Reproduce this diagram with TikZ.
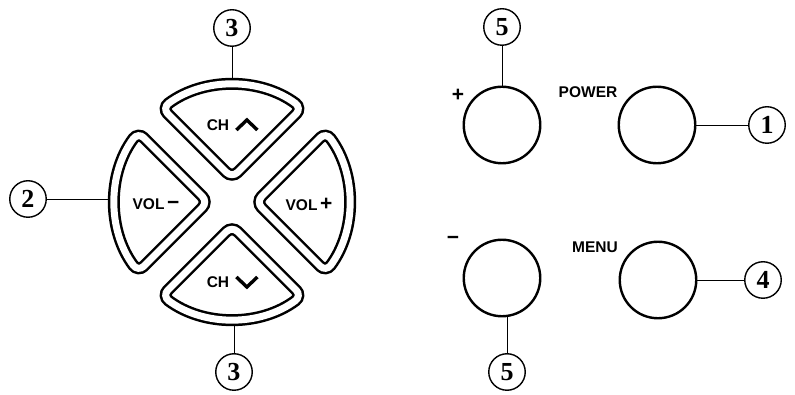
\documentclass[tikz,border=0pt]{standalone}
\usepackage{fontspec}
\setmainfont{Liberation Sans}
\newfontfamily\numfont{Liberation Serif}
\usetikzlibrary{calc}

\newcommand\bigsign[1]{{\fontsize{21}{21}\selectfont #1}}

\tikzset{
  key/.style={draw, line width=2.5pt, double=white, double distance=7pt, rounded corners=8pt},
  btn/.style={circle, draw, line width=2.4pt, minimum size=76.5pt, inner sep=0pt},
  num/.style={circle, draw, line width=1.4pt, minimum size=36.5pt, inner sep=0pt,
    font=\numfont\bfseries\fontsize{26}{26}\selectfont},
  lbl/.style={inner sep=0pt, font=\bfseries\fontsize{15.5}{15.5}\selectfont},
  chev/.style={line width=3.4pt, line cap=butt, line join=miter},
  lead/.style={line width=0.6pt}
}

\begin{document}
\begin{tikzpicture}[x=1pt, y=1pt]

  \newcommand\Rk{117};
  \newcommand\Key[1]{\draw[key, rotate=#1] (0,24) -- (126.66:\Rk) arc[start angle=126.66, end angle=53.34, radius=\Rk pt] -- cycle;}

  \useasboundingbox (-232,-193) rectangle (563,202);

  %% cross pad
  \Key{0}   % CH up
  \Key{90}  % VOL -
  \Key{180} % CH down
  \Key{270} % VOL +

  \coordinate (kt) at (0,122.5);
  \coordinate (kb) at (0,-122.5);
  \coordinate (kl) at (-122.5,3);

  \node[lbl] (chup) at (-14,77) {CH};
  \draw[chev] ([xshift=7pt, yshift=-5pt]chup.east) -- ++(10.5,10) -- ++(10.5,-10);
  \node[lbl] (chdn) at (-14,-80) {CH};
  \draw[chev] ([xshift=7pt, yshift=5pt]chdn.east) -- ++(10.5,-10) -- ++(10.5,10);
  \node[lbl] (volm) at (-76,-2) {VOL\,\bigsign{−}};
  \node[lbl] (volp) at (77,-2) {VOL\,\bigsign{+}};

  %% side buttons
  \node[btn] (plus)  at (270,77) {};
  \node[btn] (power) at (425,77) {};
  \node[btn] (minus) at (270,-76) {};
  \node[btn] (menu)  at (426,-78) {};

  \node[lbl] (plusl)  at (226,107) {\bigsign{+}};
  \node[lbl] (powerl) at (356,110) {POWER};
  \node[lbl] (minusl) at (221,-38) {\bigsign{−}};
  \node[lbl] (menul)  at (363,-45) {MENU};

  %% callouts
  \node[num] (n3t) at (0,174) {3};
  \node[num] (n3b) at (2,-170) {3};
  \node[num] (n2)  at (-204,3) {2};
  \node[num] (n5t) at (270,175) {5};
  \node[num] (n5b) at (275,-170) {5};
  \node[num] (n1)  at (535,77) {1};
  \node[num] (n4)  at (531,-78) {4};

  \draw[lead] (n3t) -- (kt);            % 3 -> CH up
  \draw[lead] (n3b) -- (n3b |- kb);     % 3 -> CH down
  \draw[lead] (n2) -- (kl);             % 2 -> VOL -
  \draw[lead] (n5t) -- (plus);          % 5 -> +
  \draw[lead] (n5b) -- (n5b |- minus.south); % 5 -> -
  \draw[lead] (power) -- (n1);          % POWER -> 1
  \draw[lead] (menu) -- (n4);           % MENU -> 4

\end{tikzpicture}
\end{document}
